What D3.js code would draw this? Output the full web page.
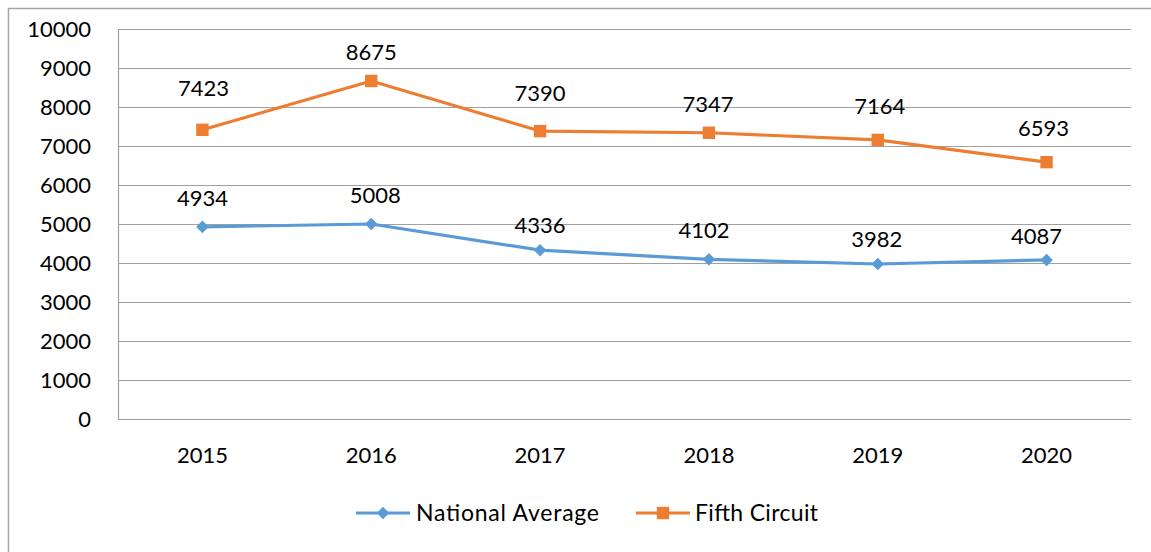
<!DOCTYPE html>
<html><head><meta charset="utf-8">
<script src="https://cdn.jsdelivr.net/npm/d3@7"></script>
<style>body{margin:0;background:#fff;} svg{display:block;font-family:Lato, "Open Sans", sans-serif;}</style>
</head><body><svg id="c" width="1151" height="552"></svg>
<script>
const years = ["2015","2016","2017","2018","2019","2020"];
const nationalAverage = [4934,5008,4336,4102,3982,4087];
const fifthCircuit = [7423,8675,7390,7347,7164,6593];
const yTicks = [0,1000,2000,3000,4000,5000,6000,7000,8000,9000,10000];
const seriesNames = ["National Average","Fifth Circuit"];
const colors = ["#5B9BD5","#ED7D31"];
// data-label nudges (label placement as in the reference)
const labelLift = [[28.6,29,24.9,29.3,24.5,23.6],[41.5,29,37.6,28.5,33.7,34.4]];
const labelShift = [[0,4,0,-5,-1,-10],[1,0,0,-1,2,-3]];

const svg = d3.select("#c");
svg.append("rect").attr("x",8.5).attr("y",8.5).attr("width",1160).attr("height",560)
  .attr("fill","none").attr("stroke","#a6a6a6").attr("stroke-width",1.5);

const L=118, R=1131, T=29.3, B=419.3;
const x = d3.scaleBand().domain(years).range([L,R]);
const y = d3.scaleLinear().domain([0,10000]).range([B,T]);

const g = svg.append("g");
g.selectAll("line.grid").data(yTicks).join("line")
  .attr("x1",L).attr("x2",R).attr("y1",d=>Math.round(y(d))+0.5).attr("y2",d=>Math.round(y(d))+0.5)
  .attr("stroke","#a0a0a0").attr("stroke-width",1.2);
g.append("line").attr("x1",L+0.5).attr("x2",L+0.5).attr("y1",T).attr("y2",B+0.5)
  .attr("stroke","#a0a0a0").attr("stroke-width",1.2);

g.selectAll("text.yt").data(yTicks).join("text")
  .attr("x",91).attr("y",d=>y(d)).attr("dy","0.36em").attr("text-anchor","end")
  .attr("font-size",22).attr("fill","#000").text(d=>d);
g.selectAll("text.xt").data(years).join("text")
  .attr("x",d=>x(d)+x.bandwidth()/2).attr("y",455).attr("dy","0.36em").attr("text-anchor","middle")
  .attr("font-size",22).attr("fill","#000").text(d=>d);

const cx = d=>x(d)+x.bandwidth()/2;
const line = d3.line().x((d,i)=>cx(years[i])).y(d=>y(d));
const symFor = si => si===0 ? d3.symbol().type(d3.symbolDiamond2).size(100) : d3.symbol().type(d3.symbolSquare2).size(196);
[nationalAverage, fifthCircuit].forEach((vals,si)=>{
  g.append("path").datum(vals).attr("d",line).attr("fill","none")
    .attr("stroke",colors[si]).attr("stroke-width",3.2).attr("stroke-linejoin","round");
  g.selectAll(null).data(vals).join("path").attr("d",symFor(si))
    .attr("transform",(d,i)=>`translate(${cx(years[i])},${y(d)})`).attr("fill",colors[si]);
  g.selectAll(null).data(vals).join("text")
    .attr("x",(d,i)=>cx(years[i])+labelShift[si][i]).attr("y",(d,i)=>y(d)-labelLift[si][i]).attr("dy","0.36em")
    .attr("text-anchor","middle").attr("font-size",22).attr("fill","#000").text(d=>d);
});

// legend
const leg = [{x0:356,x1:410,tx:416,w:183},{x0:636,x1:690,tx:695,w:123}];
seriesNames.forEach((n,si)=>{
  const l = leg[si], ly=513;
  svg.append("line").attr("x1",l.x0).attr("x2",l.x1).attr("y1",ly).attr("y2",ly)
    .attr("stroke",colors[si]).attr("stroke-width",3.2);
  svg.append("path").attr("d",symFor(si)).attr("transform",`translate(${(l.x0+l.x1)/2},${ly})`).attr("fill",colors[si]);
  svg.append("text").attr("x",l.tx).attr("y",ly).attr("dy","0.36em").attr("font-size",23)
    .attr("textLength",l.w).attr("lengthAdjust","spacing").attr("fill","#000").text(n);
});
</script></body></html>
